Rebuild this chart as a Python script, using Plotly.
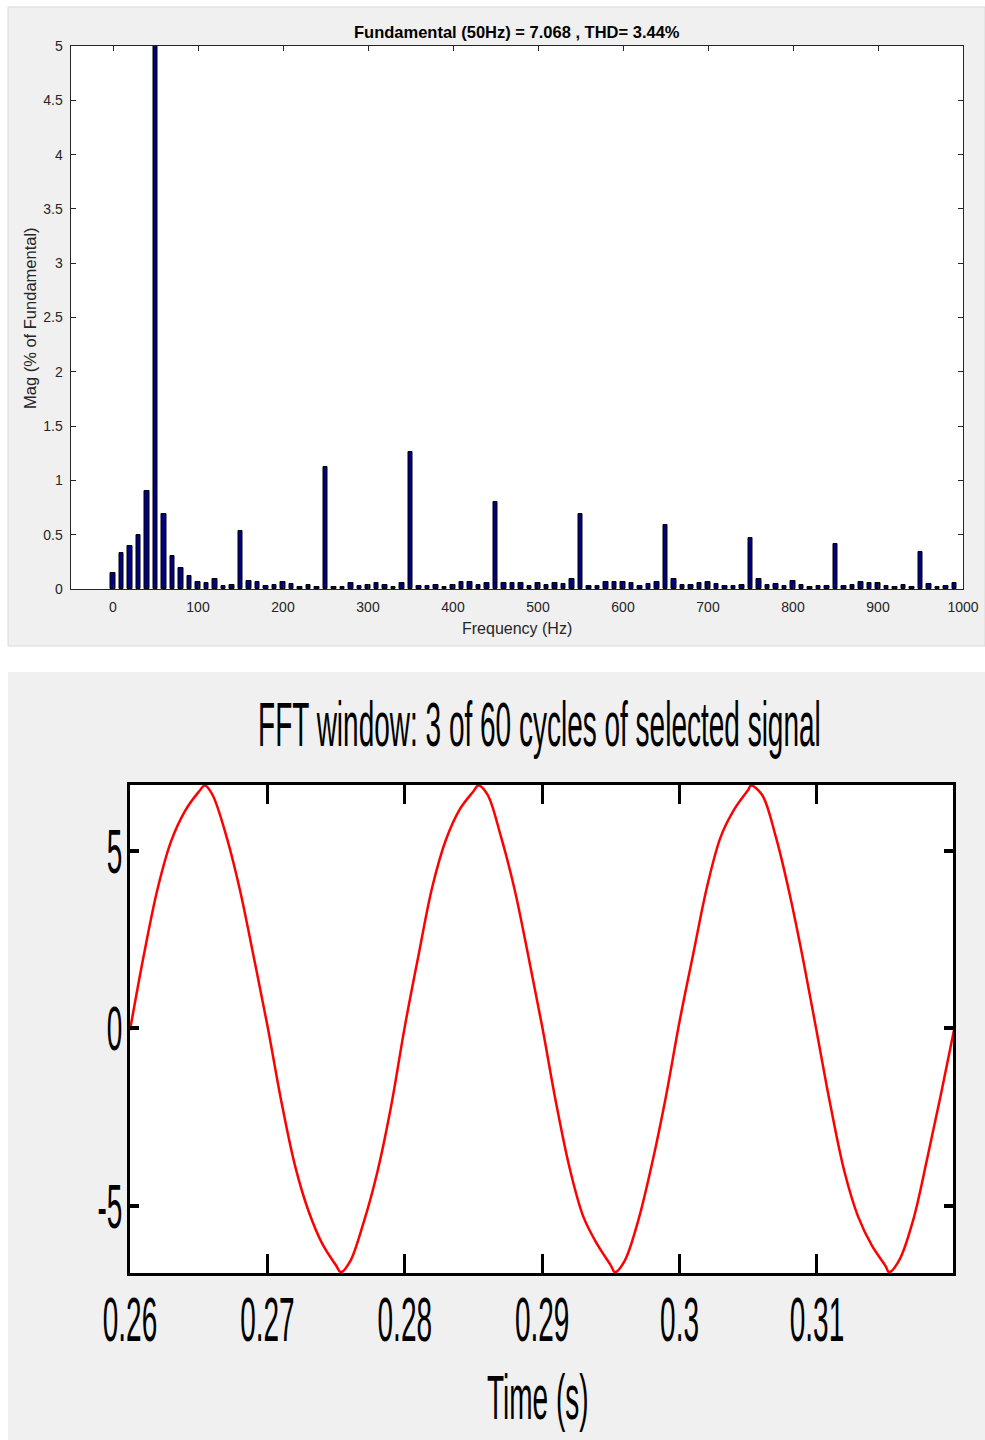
import plotly.graph_objects as go

W, H = 985, 1440

# ---------------- FFT spectrum data (top panel) ----------------
freq_hz = [0, 10, 20, 30, 40, 50, 60, 70, 80, 90,
           100, 110, 120, 130, 140, 150, 160, 170, 180, 190,
           200, 210, 220, 230, 240, 250, 260, 270, 280, 290,
           300, 310, 320, 330, 340, 350, 360, 370, 380, 390,
           400, 410, 420, 430, 440, 450, 460, 470, 480, 490,
           500, 510, 520, 530, 540, 550, 560, 570, 580, 590,
           600, 610, 620, 630, 640, 650, 660, 670, 680, 690,
           700, 710, 720, 730, 740, 750, 760, 770, 780, 790,
           800, 810, 820, 830, 840, 850, 860, 870, 880, 890,
           900, 910, 920, 930, 940, 950, 960, 970, 980, 990]

mag_pct = [0.15, 0.334, 0.40, 0.50, 0.905, 100.0, 0.69, 0.304, 0.196, 0.123,
           0.068, 0.058, 0.095, 0.028, 0.034, 0.53, 0.077, 0.061, 0.031, 0.034,
           0.068, 0.049, 0.022, 0.034, 0.018, 1.126, 0.022, 0.018, 0.052, 0.031,
           0.037, 0.052, 0.035, 0.018, 0.052, 1.264, 0.031, 0.028, 0.034, 0.018,
           0.037, 0.061, 0.064, 0.034, 0.058, 0.80, 0.052, 0.058, 0.058, 0.031,
           0.052, 0.037, 0.052, 0.046, 0.089, 0.694, 0.028, 0.028, 0.068, 0.064,
           0.064, 0.058, 0.028, 0.046, 0.064, 0.586, 0.092, 0.034, 0.040, 0.058,
           0.064, 0.049, 0.028, 0.025, 0.040, 0.47, 0.089, 0.037, 0.046, 0.025,
           0.077, 0.040, 0.018, 0.025, 0.031, 0.417, 0.031, 0.040, 0.061, 0.055,
           0.052, 0.031, 0.018, 0.040, 0.018, 0.344, 0.046, 0.018, 0.031, 0.052]

freq_ticks = [0, 100, 200, 300, 400, 500, 600, 700, 800, 900, 1000]
mag_ticks = [0, 0.5, 1, 1.5, 2, 2.5, 3, 3.5, 4, 4.5, 5]

fft_title = "Fundamental (50Hz) = 7.068 , THD= 3.44%"
fft_xlabel = "Frequency (Hz)"
fft_ylabel = "Mag (% of Fundamental)"

# ---------------- Time signal data (bottom panel) ----------------
time_s = [0.260, 0.261, 0.262, 0.263, 0.264, 0.265, 0.26545, 0.266, 0.267, 0.268, 0.269,
          0.270, 0.271, 0.272, 0.273, 0.274, 0.275, 0.27535, 0.276, 0.277, 0.278, 0.279,
          0.280, 0.281, 0.282, 0.283, 0.284, 0.285, 0.28535, 0.286, 0.287, 0.288, 0.289,
          0.290, 0.291, 0.292, 0.293, 0.294, 0.295, 0.29530, 0.296, 0.297, 0.298, 0.299,
          0.300, 0.301, 0.302, 0.303, 0.304, 0.305, 0.30520, 0.306, 0.307, 0.308, 0.309,
          0.310, 0.311, 0.312, 0.313, 0.314, 0.315, 0.31525, 0.316, 0.317, 0.318, 0.319,
          0.320]

signal = [-0.05, 2.05, 3.92, 5.28, 6.12, 6.66, 6.84, 6.58, 5.43, 3.90, 2.02,
          0.08, -2.03, -3.85, -5.15, -6.07, -6.68, -6.87, -6.58, -5.47, -4.05, -2.20,
          0.05, 2.06, 3.98, 5.32, 6.17, 6.68, 6.84, 6.60, 5.40, 3.90, 2.02,
          0.05, -2.08, -3.94, -5.31, -6.08, -6.68, -6.87, -6.55, -5.40, -3.80, -1.93,
          0.20, 2.11, 3.99, 5.40, 6.18, 6.72, 6.84, 6.58, 5.40, 3.80, 1.92,
          -0.14, -2.21, -4.04, -5.31, -6.12, -6.70, -6.87, -6.52, -5.40, -3.71, -1.90,
          0.00]

time_ticks = [0.26, 0.27, 0.28, 0.29, 0.30, 0.31]
time_ticktext = ["0.26", "0.27", "0.28", "0.29", "0.3", "0.31"]
sig_ticks = [-5, 0, 5]
sig_ticktext = ["-5", "0", "5"]

sig_title = "FFT window: 3 of 60 cycles of selected signal"
sig_xlabel = "Time (s)"

# ---------------- helpers ----------------
def fx(px):
    return px / W

def fy(py):
    return 1 - py / H

FONT = "Liberation Sans, Arial, Helvetica, sans-serif"
AX = "#262626"

fig = go.Figure()

fig.add_trace(go.Bar(
    x=freq_hz, y=mag_pct, width=5.5,
    marker=dict(color="#000080", line=dict(color="#000000", width=1)),
    xaxis="x", yaxis="y", showlegend=False, hoverinfo="x+y"))

fig.add_trace(go.Scatter(
    x=time_s, y=signal, mode="lines",
    line=dict(color="#ff0000", width=2.5, shape="spline", smoothing=1.0),
    xaxis="x2", yaxis="y2", showlegend=False))

common_top = dict(showgrid=False, zeroline=False, showline=True, linecolor=AX, linewidth=1,
                  mirror="ticks", ticks="inside", ticklen=5, tickwidth=1, tickcolor=AX,
                  automargin=False,
                  tickfont=dict(family=FONT, size=14, color=AX))

common_bot = dict(showgrid=False, zeroline=False, showline=True, linecolor="#000000", linewidth=3,
                  mirror="ticks", ticks="inside", tickcolor="#000000",
                  automargin=False,
                  tickfont=dict(family=FONT, size=28, color="#000000"))

fig.update_layout(
    width=W, height=H, autosize=False,
    margin=dict(l=0, r=0, t=0, b=0, pad=0, autoexpand=False),
    paper_bgcolor="#ffffff", plot_bgcolor="#ffffff",
    bargap=0,
    xaxis=dict(domain=[fx(70.5), fx(963)], range=[-50, 1000], tickvals=freq_ticks,
               anchor="y", ticklabelstandoff=5, **common_top),
    yaxis=dict(domain=[fy(589), fy(46)], range=[0, 5], tickvals=mag_ticks,
               anchor="x", ticklabelstandoff=4, **common_top),
    xaxis2=dict(domain=[fx(130), fx(953)], range=[0.26, 0.3199], tickvals=time_ticks,
                ticktext=time_ticktext, anchor="y2", ticklen=19, tickwidth=3,
                ticklabelstandoff=20, **common_bot),
    yaxis2=dict(domain=[fy(1273), fy(785)], range=[-6.89, 6.855], tickvals=sig_ticks,
                ticktext=sig_ticktext, anchor="x2", ticklen=9, tickwidth=4,
                ticklabelstandoff=-1, **common_bot),
    shapes=[
        dict(type="rect", xref="paper", yref="paper", x0=fx(8), x1=fx(985), y0=fy(646), y1=fy(7),
             fillcolor="#f0f0f0", line=dict(color="#dadada", width=1), layer="below"),
        dict(type="rect", xref="paper", yref="paper", x0=fx(70.5), x1=fx(963), y0=fy(589), y1=fy(46),
             fillcolor="#ffffff", line=dict(width=0), layer="below"),
        dict(type="rect", xref="paper", yref="paper", x0=fx(8), x1=fx(985), y0=fy(1440), y1=fy(672),
             fillcolor="#f0f0f0", line=dict(width=0), layer="below"),
        dict(type="rect", xref="paper", yref="paper", x0=fx(130), x1=fx(953), y0=fy(1273), y1=fy(785),
             fillcolor="#ffffff", line=dict(width=0), layer="below"),
    ],
    annotations=[
        dict(text="<b>" + fft_title + "</b>", xref="paper", yref="paper", x=fx(517), y=fy(32),
             showarrow=False, xanchor="center", yanchor="middle",
             font=dict(family=FONT, size=16.5, color="#000000")),
        dict(text=fft_xlabel, xref="paper", yref="paper", x=fx(517), y=fy(628),
             showarrow=False, xanchor="center", yanchor="middle",
             font=dict(family=FONT, size=16, color=AX)),
        dict(text=fft_ylabel, xref="paper", yref="paper", x=fx(30), y=fy(318), textangle=-90,
             showarrow=False, xanchor="center", yanchor="middle",
             font=dict(family=FONT, size=16.5, color=AX)),
        dict(text=sig_title, xref="paper", yref="paper", x=fx(539), y=fy(724),
             showarrow=False, xanchor="center", yanchor="middle",
             font=dict(family=FONT, size=28, color="#000000")),
        dict(text=sig_xlabel, xref="paper", yref="paper", x=fx(538), y=fy(1397),
             showarrow=False, xanchor="center", yanchor="middle",
             font=dict(family=FONT, size=28, color="#000000")),
    ],
)

# Stretch the bottom panel's text vertically (the reference renders it tall and narrow)
post_js = """
(function(){
  var gd = document.getElementById('{plot_id}');
  if (!gd) return;
  var k = 2.25;
  var texts = gd.querySelectorAll('svg text');
  texts.forEach(function(t){
    if (t.getAttribute('data-stretched')) return;
    var r = t.getBoundingClientRect();
    if (!r || r.height === 0) return;
    var gr = gd.getBoundingClientRect();
    if ((r.top + r.bottom) / 2 - gr.top < 660) return;
    var b = t.getBBox();
    var cy = b.y + b.height / 2;
    var tr = t.getAttribute('transform') || '';
    t.setAttribute('transform', tr + ' translate(0,' + cy + ') scale(1,' + k + ') translate(0,' + (-cy) + ')');
    t.setAttribute('data-stretched', '1');
  });
})();
"""

fig.write_html("out.html", config={"displayModeBar": False}, post_script=post_js)
